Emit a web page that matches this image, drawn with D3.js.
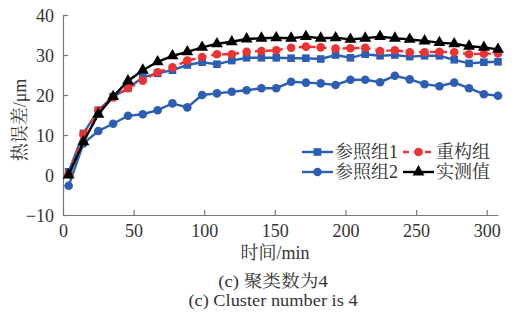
<!DOCTYPE html>
<html><head><meta charset="utf-8">
<script src="https://cdn.jsdelivr.net/npm/d3@7/dist/d3.min.js"></script>
<style>
body{margin:0;background:#fff;}
text{font-family:"Liberation Serif","Times New Roman","Noto Serif CJK SC","Noto Sans CJK SC",serif;}
</style></head>
<body><svg id="c" width="514" height="321"></svg>
<script>
const times = [4,14.5,25,35.5,46,56.5,67,77.5,88,98.5,109,119.5,130,140.5,151,161.5,172,182.5,193,203.5,214,224.5,235,245.5,256,266.5,277,287.5,298,308];
const ref1 = [0.8,10.4,16.2,19.6,21.7,24.4,25.4,26.2,27.5,28.2,27.7,28.6,29.3,29.3,29.3,29.2,29.2,29.0,30.0,29.3,30.2,29.8,30.0,29.6,29.8,29.8,28.8,27.9,28.2,28.3];
const ref2 = [-2.7,7.9,11.0,12.8,14.8,15.2,16.2,17.9,16.9,20.0,20.4,20.8,21.2,21.7,21.7,23.3,23.1,22.9,22.5,23.8,23.8,23.2,24.8,23.9,22.7,22.2,23.1,21.7,20.2,19.8];
const recon = [0.2,10.2,16.1,19.4,21.7,23.6,25.7,26.9,28.6,29.5,30.2,30.2,30.8,31.0,31.2,31.8,32.1,31.9,31.6,31.7,31.8,31.0,31.2,30.7,30.7,30.8,30.7,30.2,30.3,30.4];
const measured = [0,8.3,15.2,19.6,23.5,26.2,28.3,29.8,30.8,31.9,32.8,33.3,34.0,34.2,34.3,34.2,34.6,34.2,34.3,33.9,34.2,34.6,34.2,33.9,33.5,33.1,32.8,32.2,31.9,31.4];
const xTicks = [0,50,100,150,200,250,300];
const yTicks = [-10,0,10,20,30,40];
const names = ["参照组1","参照组2","重构组","实测值"];

const blue = "#2c5fb3", red = "#ee3232", black = "#000";
const svg = d3.select("#c");
const x = d3.scaleLinear().domain([0,308]).range([63,498]);
const y = d3.scaleLinear().domain([-10,40]).range([215,15]);
const axisCol = "#777";

const gx = svg.append("g").attr("transform","translate(0,215)")
  .call(d3.axisBottom(x).tickValues(xTicks).tickSizeInner(-5).tickSizeOuter(0).tickPadding(9));
const gy = svg.append("g").attr("transform","translate(63,0)")
  .call(d3.axisLeft(y).tickValues(yTicks).tickSizeInner(-5).tickSizeOuter(0).tickPadding(9));
[gx,gy].forEach(g=>{
  g.select(".domain").attr("stroke",axisCol).attr("stroke-width",1.2);
  g.selectAll(".tick line").attr("stroke",axisCol).attr("stroke-width",1.2);
  g.selectAll(".tick text").attr("fill","#333").style("font-size","18px");
});
gy.selectAll(".tick text").attr("dy","0.35em");

const line = d3.line().x((d,i)=>x(times[i])).y(d=>y(d));

function series(data,color,dash,marker){
  svg.append("path").datum(data).attr("d",line).attr("fill","none")
    .attr("stroke",color).attr("stroke-width",2.4).attr("stroke-dasharray",dash||null);
  const g = svg.append("g");
  data.forEach((d,i)=>drawMarker(g,marker,x(times[i]),y(d),color));
}
function drawMarker(g,marker,cx,cy,color){
  if(marker==="square"){
    g.append("rect").attr("x",cx-3.8).attr("y",cy-3.8).attr("width",7.6).attr("height",7.6).attr("fill",color);
  } else if(marker==="circle"){
    g.append("circle").attr("cx",cx).attr("cy",cy).attr("r",4.3).attr("fill",color);
  } else {
    g.append("path").attr("d",d3.symbol(d3.symbolTriangle,62)()).attr("transform",`translate(${cx},${cy})`).attr("fill",color);
  }
}
series(ref2,blue,null,"circle");
series(ref1,blue,null,"square");
series(recon,red,"6,5","circle");
series(measured,black,null,"triangle");

// legend
const leg = [
  {n:names[0],c:blue,m:"square",d:null,x0:302,yy:152},
  {n:names[2],c:red,m:"circle",d:"6,5",x0:403,yy:152},
  {n:names[1],c:blue,m:"circle",d:null,x0:302,yy:172},
  {n:names[3],c:black,m:"triangle",d:null,x0:403,yy:172}
];
const lg = svg.append("g");
leg.forEach(l=>{
  lg.append("line").attr("x1",l.x0).attr("x2",l.x0+31).attr("y1",l.yy).attr("y2",l.yy)
    .attr("stroke",l.c).attr("stroke-width",2.4).attr("stroke-dasharray",l.d);
  drawMarker(lg,l.m,l.x0+15.5,l.yy,l.c);
  lg.append("text").attr("x",l.x0+33).attr("y",l.yy).attr("dy","0.36em").attr("fill","#333")
    .style("font-size","18px").text(l.n);
});

svg.append("text").attr("transform","translate(20,120) rotate(-90)").attr("text-anchor","middle")
  .attr("dy","0.35em").attr("fill","#333").style("font-size","18px").text("热误差/μm");
svg.append("text").attr("x",275).attr("y",259).attr("text-anchor","middle").attr("fill","#333")
  .style("font-size","18px").text("时间/min");
svg.append("text").attr("transform","translate(273,287) scale(1.1,1)").attr("text-anchor","middle").attr("fill","#333")
  .style("font-size","17px").text("(c) 聚类数为4");
svg.append("text").attr("transform","translate(273,306) scale(1.08,1)").attr("text-anchor","middle").attr("fill","#333")
  .style("font-size","17px").text("(c) Cluster number is 4");
</script></body></html>
